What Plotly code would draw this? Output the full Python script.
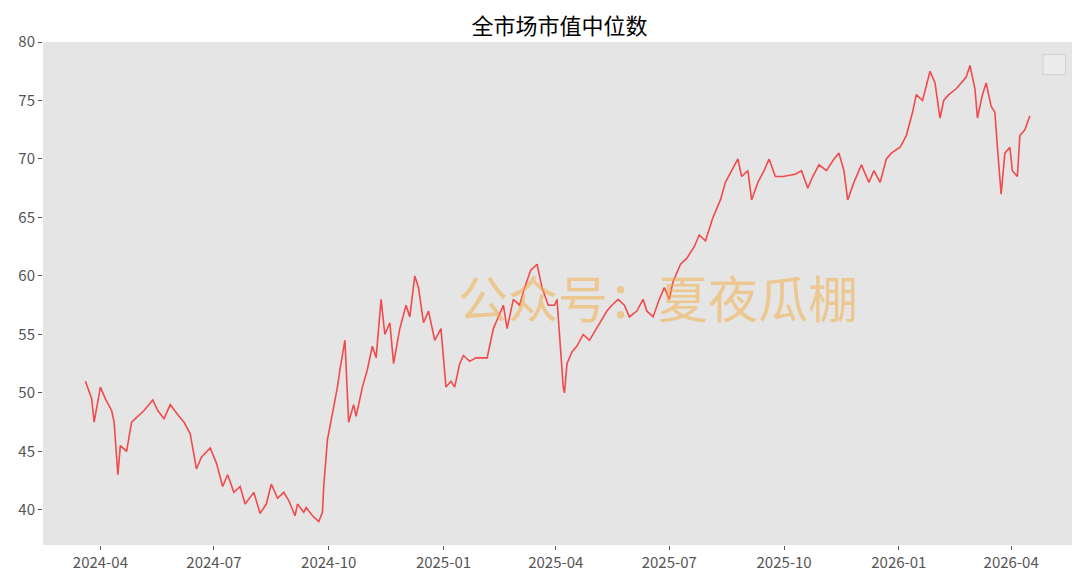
import plotly.graph_objects as go

dates = ["2024-03-20","2024-03-25","2024-03-27","2024-04-01","2024-04-05","2024-04-10","2024-04-12","2024-04-15","2024-04-17","2024-04-22","2024-04-26","2024-05-06","2024-05-13","2024-05-17","2024-05-22","2024-05-27","2024-06-03","2024-06-07","2024-06-12","2024-06-17","2024-06-21","2024-06-28","2024-07-03","2024-07-08","2024-07-12","2024-07-17","2024-07-22","2024-07-26","2024-08-02","2024-08-07","2024-08-12","2024-08-16","2024-08-21","2024-08-26","2024-08-30","2024-09-04","2024-09-06","2024-09-11","2024-09-13","2024-09-18","2024-09-23","2024-09-26","2024-09-27","2024-09-30","2024-10-08","2024-10-10","2024-10-14","2024-10-17","2024-10-21","2024-10-23","2024-10-28","2024-11-01","2024-11-05","2024-11-08","2024-11-12","2024-11-15","2024-11-19","2024-11-22","2024-11-27","2024-12-02","2024-12-05","2024-12-09","2024-12-12","2024-12-16","2024-12-20","2024-12-25","2024-12-30","2025-01-02","2025-01-03","2025-01-07","2025-01-10","2025-01-14","2025-01-17","2025-01-22","2025-01-27","2025-02-05","2025-02-10","2025-02-14","2025-02-18","2025-02-21","2025-02-26","2025-03-03","2025-03-07","2025-03-12","2025-03-17","2025-03-21","2025-03-26","2025-03-31","2025-04-02","2025-04-07","2025-04-08","2025-04-10","2025-04-14","2025-04-18","2025-04-23","2025-04-28","2025-05-06","2025-05-12","2025-05-16","2025-05-21","2025-05-26","2025-05-30","2025-06-05","2025-06-10","2025-06-13","2025-06-18","2025-06-23","2025-06-27","2025-07-01","2025-07-04","2025-07-10","2025-07-15","2025-07-21","2025-07-25","2025-07-30","2025-08-05","2025-08-11","2025-08-15","2025-08-20","2025-08-25","2025-08-28","2025-09-02","2025-09-05","2025-09-10","2025-09-15","2025-09-19","2025-09-24","2025-09-30","2025-10-10","2025-10-15","2025-10-20","2025-10-24","2025-10-29","2025-11-04","2025-11-10","2025-11-14","2025-11-18","2025-11-21","2025-11-26","2025-12-02","2025-12-08","2025-12-12","2025-12-17","2025-12-22","2025-12-26","2026-01-02","2026-01-07","2026-01-12","2026-01-15","2026-01-20","2026-01-26","2026-01-30","2026-02-03","2026-02-06","2026-02-10","2026-02-16","2026-02-24","2026-02-27","2026-03-03","2026-03-05","2026-03-09","2026-03-12","2026-03-16","2026-03-19","2026-03-21","2026-03-24","2026-03-27","2026-03-31","2026-04-02","2026-04-06","2026-04-08","2026-04-12","2026-04-16"]
values = [51,49.5,47.5,50.5,49.5,48.5,47.5,43,45.5,45,47.5,48.5,49.4,48.5,47.8,49,48,47.5,46.5,43.5,44.5,45.3,44,42,43,41.5,42,40.5,41.5,39.7,40.5,42.2,41,41.5,40.8,39.5,40.5,39.8,40.2,39.5,39,39.8,42,46,50.5,52,54.5,47.5,49,48,50.5,52,54,53,58,55,56,52.5,55.5,57.5,56.5,60,59,56,57,54.5,55.5,52,50.5,51,50.5,52.5,53.2,52.7,53,53,55.5,56.5,57.5,55.5,58,57.5,59,60.5,61,59,57.5,57.5,58,50.5,50,52.5,53.5,54,55,54.5,56,57,57.5,58,57.5,56.5,57,58,57,56.5,58,59,58,59.5,61,61.5,62.5,63.5,63,65,66.5,68,69,70,68.5,69,66.5,68,69,70,68.5,68.5,68.7,69,67.5,68.5,69.5,69,70,70.5,69,66.5,68,69.5,68,69,68,70,70.5,71,72,74,75.5,75,77.5,76.5,73.5,75,75.5,76,77,78,76,73.5,75.5,76.5,74.5,74,71,67,70.5,71,69,68.5,72,72.5,73.7]

fig = go.Figure()
fig.add_trace(go.Scatter(x=dates, y=values, mode="lines", line=dict(color="#f24a4a", width=1.6), showlegend=False))

fig.add_annotation(text="公众号：夏夜瓜棚", xref="paper", yref="paper", x=0.595, y=0.495,
                   showarrow=False, font=dict(size=50, color="rgba(245,170,60,0.5)", family="Noto Sans CJK SC"))
fig.add_shape(type="rect", xref="paper", yref="paper", x0=0.968, x1=0.99, y0=0.935, y1=0.975,
              fillcolor="rgba(235,235,235,1)", line=dict(color="#d0d0d0", width=1))

fig.update_layout(
    width=1080, height=569,
    margin=dict(l=35, r=12, t=34, b=32, autoexpand=False),
    paper_bgcolor="white", plot_bgcolor="#e5e5e5",
    title=dict(text="全市场市值中位数", x=0.5, xanchor="center", xref="paper",
               yref="container", y=0.968, yanchor="middle", automargin=False,
               font=dict(size=22, color="black", family="Noto Sans CJK SC")),
    font=dict(family="Noto Sans CJK SC", size=15, color="#555"),
    xaxis=dict(range=["2024-02-15", "2026-05-23"], showgrid=False, zeroline=False, automargin=False,
               tickvals=["2024-04-01","2024-07-01","2024-10-01","2025-01-01","2025-04-01","2025-07-01","2025-10-01","2026-01-01","2026-04-01"],
               ticktext=["2024-04","2024-07","2024-10","2025-01","2025-04","2025-07","2025-10","2026-01","2026-04"],
               ticks="outside", ticklen=4, tickcolor="#555"),
    yaxis=dict(range=[37, 80], showgrid=False, zeroline=False, automargin=False, tickvals=[40,45,50,55,60,65,70,75,80],
               ticks="outside", ticklen=4, tickcolor="#555"),
)
fig.write_html("out.html")
